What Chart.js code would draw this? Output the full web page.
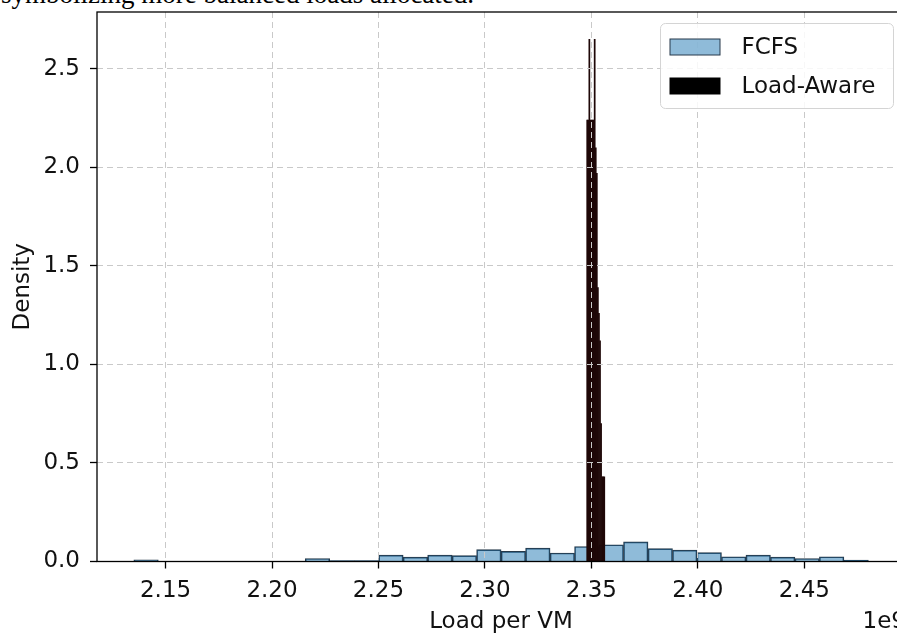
<!DOCTYPE html>
<html>
<head>
<meta charset="utf-8">
<script src="https://cdn.jsdelivr.net/npm/chart.js@4.4.1/dist/chart.umd.min.js"></script>
<style>
  html, body { margin: 0; padding: 0; background: #fff; overflow: hidden; width: 897px; height: 636px; }
  #caption { position: absolute; left: 1px; top: -19px; font-family: "Liberation Serif", serif; font-size: 27px; line-height: 27px; white-space: nowrap; color: #000; }
  #can { position: absolute; left: 0; top: 0; }
</style>
</head>
<body>
<div id="caption">symbolizing more balanced loads allocated.</div>
<div id="can"><canvas id="myChart" width="910" height="636"></canvas></div>
<script>
// histogram bins (bin centres, load per VM in 1e9) and densities
const fcfsBins = [2.14085, 2.15235, 2.16385, 2.17535, 2.18685, 2.19835, 2.20985, 2.22135, 2.23285, 2.24435,
                  2.25585, 2.26735, 2.27885, 2.29035, 2.30185, 2.31335, 2.32485, 2.33635, 2.34785, 2.35935,
                  2.37085, 2.38235, 2.39385, 2.40535, 2.41685, 2.42835, 2.43985, 2.45135, 2.46285, 2.47435]
const fcfsDensity = [0.008, 0, 0, 0, 0, 0, 0, 0.015, 0.005, 0.005,
                     0.032, 0.022, 0.032, 0.030, 0.060, 0.051, 0.068, 0.043, 0.076, 0.085,
                     0.100, 0.065, 0.058, 0.045, 0.024, 0.032, 0.022, 0.015, 0.024, 0.007]

const loadAwareBins = [2.34805, 2.34855, 2.34905, 2.34955, 2.35005, 2.35055, 2.35105, 2.35155, 2.35205,
                       2.35255, 2.35305, 2.35355, 2.35405, 2.35455, 2.35505, 2.35555, 2.35605]
const loadAwareDensity = [2.24, 2.24, 2.65, 2.24, 2.24, 2.24, 2.24, 2.65, 2.10,
                          1.97, 1.39, 1.26, 1.12, 0.70, 0.43, 0.43, 0.43]

const xTicks = [2.15, 2.20, 2.25, 2.30, 2.35, 2.40, 2.45]
const yTicks = [0, 0.5, 1.0, 1.5, 2.0, 2.5]
const xMin = 2.1178, xMax = 2.4973
const yMin = 0, yMax = 2.789
const xOffsetText = '1e9'

Chart.defaults.font.family = '"DejaVu Sans", sans-serif'
Chart.defaults.color = '#111'

// plot box taken from the scales themselves
function plotBox(chart) {
    const sx = chart.scales.x, sy = chart.scales.y
    return { left: sx.left, right: sx.right, top: sy.top, bottom: sy.bottom }
}

// matplotlib-like frame (all four spines) + the x offset text
const frame = {
    id: 'frame',
    afterDraw(chart) {
        const a = plotBox(chart), ctx = chart.ctx
        ctx.save()
        ctx.setLineDash([])
        ctx.strokeStyle = '#000'
        ctx.lineWidth = 1.3
        ctx.strokeRect(a.left, a.top, a.right - a.left, a.bottom - a.top)
        ctx.fillStyle = '#111'
        ctx.font = '23px "DejaVu Sans"'
        ctx.textAlign = 'right'
        ctx.textBaseline = 'alphabetic'
        ctx.fillText(xOffsetText, a.right + 1, 628)
        ctx.restore()
    }
}

// legend box in the upper right corner
const boxLegend = {
    id: 'boxLegend',
    afterDraw(chart) {
        const a = plotBox(chart), ctx = chart.ctx
        const w = 233, h = 85
        const x = a.right - 11.5 - w, y = a.top + 11.5
        ctx.save()
        ctx.setLineDash([])
        ctx.beginPath()
        ctx.roundRect(x, y, w, h, 5)
        ctx.fillStyle = 'rgba(255,255,255,0.85)'
        ctx.fill()
        ctx.strokeStyle = '#d4d4d4'
        ctx.lineWidth = 1
        ctx.stroke()
        chart.data.datasets.forEach((ds, i) => {
            const cy = y + 23.5 + i * 39
            ctx.fillStyle = ds.legendColor || ds.backgroundColor
            ctx.fillRect(x + 9.5, cy - 8, 50, 16)
            ctx.strokeStyle = ds.borderColor || ds.legendColor
            ctx.lineWidth = 1
            ctx.strokeRect(x + 9.5, cy - 8, 50, 16)
            ctx.fillStyle = '#111'
            ctx.font = '23px "DejaVu Sans"'
            ctx.textBaseline = 'middle'
            ctx.textAlign = 'left'
            ctx.fillText(ds.label, x + 81, cy + 1)
        })
        ctx.restore()
    }
}

const canvas = document.getElementById('myChart')
const myChart = new Chart(canvas, {
    type: 'bar',
    data: {
        datasets: [{
            label: 'FCFS',
            data: fcfsBins.map((v, i) => ({ x: v, y: fcfsDensity[i] })),
            xAxisID: 'x',
            backgroundColor: 'rgba(31,119,180,0.5)',
            borderColor: '#26394a',
            borderWidth: 1,
            borderSkipped: 'start',
            barPercentage: 1,
            categoryPercentage: 1,
            grouped: false,
            order: 1
        }, {
            label: 'Load-Aware',
            data: loadAwareBins.map((v, i) => ({ x: v, y: loadAwareDensity[i] })),
            xAxisID: 'x2',
            backgroundColor: '#1e0707',
            legendColor: '#000',
            borderWidth: 0,
            barPercentage: 1,
            categoryPercentage: 1,
            grouped: false,
            order: 0
        }]
    },
    options: {
        responsive: false,
        animation: false,
        devicePixelRatio: 1,
        layout: { padding: { top: 12, right: 5, left: 0, bottom: 0 } },
        plugins: { legend: { display: false }, tooltip: { enabled: false } },
        scales: {
            x: {
                type: 'linear',
                position: 'bottom',
                offset: false,
                min: xMin, max: xMax,
                afterBuildTicks: s => { s.ticks = xTicks.map(v => ({ value: v })) },
                afterFit: s => { s.height = 74.5; s.paddingLeft = 0; s.paddingRight = 0 },
                ticks: { callback: v => v.toFixed(2), font: { size: 23 }, padding: 9, maxRotation: 0, autoSkip: false },
                grid: { offset: false, color: '#c9c9c9', lineWidth: 1, z: 1, tickLength: 7, tickColor: '#000', tickWidth: 1.3 },
                border: { display: false, dash: [6, 4] },
                title: { display: true, text: 'Load per VM', font: { size: 23 }, padding: { top: 0, bottom: 0 } }
            },
            x2: {
                type: 'linear',
                position: 'bottom',
                offset: false,
                min: xMin, max: xMax,
                display: false
            },
            y: {
                position: 'left',
                min: yMin, max: yMax,
                afterBuildTicks: s => { s.ticks = yTicks.map(v => ({ value: v })) },
                afterFit: s => { s.width = 97; s.paddingTop = 0; s.paddingBottom = 0 },
                ticks: { callback: v => v.toFixed(1), font: { size: 23 }, padding: 10 },
                grid: { color: '#c9c9c9', lineWidth: 1, z: 1, tickLength: 7, tickColor: '#000', tickWidth: 1.3 },
                border: { display: false, dash: [6, 4] },
                title: { display: true, text: 'Density', font: { size: 23 }, padding: { top: 9, bottom: 0 } }
            }
        }
    },
    plugins: [frame, boxLegend]
})
</script>
</body>
</html>
